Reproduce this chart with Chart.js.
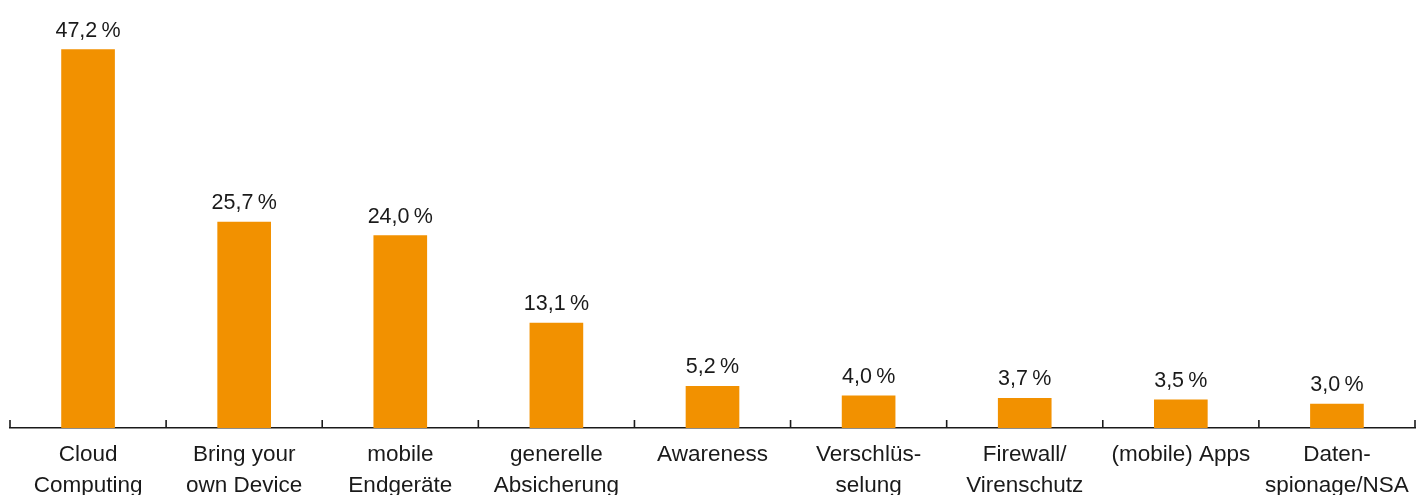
<!DOCTYPE html>
<html>
<head>
<meta charset="utf-8">
<script src="https://cdn.jsdelivr.net/npm/chart.js@4"></script>
<style>
  html, body { margin: 0; padding: 0; background: #fff; }
  #wrap { width: 1427px; height: 495px; position: relative; }
</style>
</head>
<body>
<div id="wrap"><canvas id="themen"></canvas></div>
<script>
let labels = [
  ["Cloud", "Computing"],
  ["Bring your", "own Device"],
  ["mobile", "Endgeräte"],
  ["generelle", "Absicherung"],
  ["Awareness"],
  ["Verschlüs-", "selung"],
  ["Firewall/", "Virenschutz"],
  ["(mobile) Apps"],
  ["Daten-", "spionage/NSA"],
];
let anteile = [47.2, 25.7, 24.0, 13.1, 5.2, 4.0, 3.7, 3.5, 3.0];

const orange = "rgb(242, 145, 0)";
const fontFamily = "'Liberation Sans', Arial, Helvetica, sans-serif";

// Wert über jedem Balken, deutsches Format mit Komma
const valueLabels = {
  id: "valueLabels",
  afterDatasetsDraw(chart) {
    const ctx = chart.ctx;
    const meta = chart.getDatasetMeta(0);
    ctx.save();
    ctx.font = "21.5px " + fontFamily;
    ctx.fillStyle = "#1a1a1a";
    ctx.textAlign = "center";
    ctx.textBaseline = "alphabetic";
    meta.data.forEach((bar, i) => {
      let txt = anteile[i].toFixed(1).replace(".", ",") + "\u2009%";
      ctx.fillText(txt, bar.x, bar.y - 13);
    });
    ctx.restore();
  },
};

// kleine Striche zwischen den Kategorien, nach oben zeigend
const categoryTicks = {
  id: "categoryTicks",
  afterDraw(chart) {
    const ctx = chart.ctx;
    const x = chart.scales.x;
    const bottom = chart.chartArea.bottom;
    ctx.save();
    ctx.strokeStyle = "#1a1a1a";
    ctx.lineWidth = 1.6;
    for (let i = 0; i <= labels.length; i++) {
      let px = x.getPixelForValue(i - 0.5);
      ctx.beginPath();
      ctx.moveTo(px, bottom - 8);
      ctx.lineTo(px, bottom);
      ctx.stroke();
    }
    ctx.restore();
  },
};

let chart = new Chart(document.getElementById("themen"), {
  type: "bar",
  data: {
    labels: labels,
    datasets: [
      {
        data: anteile,
        backgroundColor: orange,
        borderWidth: 0,
        barThickness: 53,
      },
    ],
  },
  options: {
    responsive: true,
    maintainAspectRatio: false,
    animation: false,
    layout: { padding: { left: 10, right: 12, top: 0, bottom: 0 } },
    plugins: {
      legend: { display: false },
      tooltip: { enabled: false },
    },
    scales: {
      x: {
        offset: true,
        grid: { display: false, drawTicks: false },
        border: { display: true, color: "#1a1a1a", width: 1.6 },
        ticks: {
          color: "#1a1a1a",
          maxRotation: 0,
          autoSkip: false,
          padding: 11,
          font: { family: fontFamily, size: 22.5, lineHeight: 1.38 },
        },
        afterFit: (scale) => {
          scale.height = 67;
        },
      },
      y: {
        display: false,
        min: 0,
        max: 53.4,
      },
    },
  },
  plugins: [valueLabels, categoryTicks],
});
</script>
</body>
</html>
